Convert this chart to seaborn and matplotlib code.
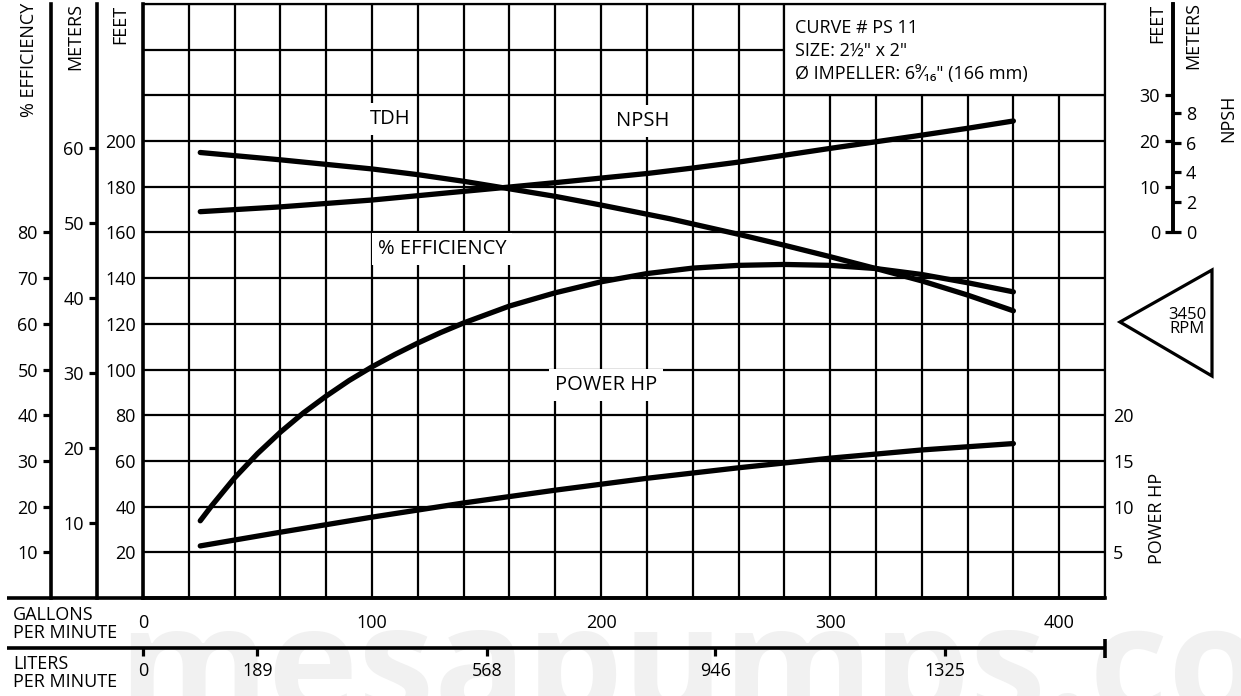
import numpy as np
import pandas as pd
import matplotlib
matplotlib.use("Agg")
import matplotlib.pyplot as plt
import seaborn as sns
from matplotlib.patches import Rectangle, Polygon

# ---------------- data ----------------
gpm_tdh = [25, 60, 100, 120, 140, 157, 180, 200, 230, 260, 280, 300, 320, 340, 360, 380]
tdh_ft = [195, 191.8, 187.8, 185.3, 182.4, 179.6, 175.8, 172.0, 166.0, 159.2, 154.4, 149.4, 144.2, 138.8, 132.6, 125.7]

gpm_npsh = [25, 60, 100, 140, 157, 180, 200, 220, 240, 260, 280, 300, 320, 340, 360, 380]
npsh_ft = [4.55, 5.6, 7.1, 9.0, 9.8, 10.9, 11.9, 12.9, 14.1, 15.4, 16.9, 18.4, 19.85, 21.3, 22.8, 24.4]

gpm_eff = [25, 30, 40, 50, 60, 70, 80, 90, 100, 110, 120, 130, 140, 160, 180, 200, 220, 240, 260,
           280, 300, 320, 340, 360, 380]
eff_pct = [16.9, 20.2, 26.3, 31.6, 36.3, 40.5, 44.2, 47.6, 50.6, 53.3, 55.8, 58.1, 60.2, 63.9, 66.8,
           69.2, 71.0, 72.2, 72.8, 73.0, 72.8, 72.1, 70.8, 69.0, 67.0]

gpm_hp = [25, 60, 100, 140, 180, 220, 260, 300, 340, 380]
power_hp = [5.7, 7.2, 8.85, 10.4, 11.8, 13.1, 14.25, 15.3, 16.2, 16.9]

gpm_ticks = [0, 100, 200, 300, 400]
lpm_ticks = [0, 189, 568, 946, 1325]
feet_ticks = [20, 40, 60, 80, 100, 120, 140, 160, 180, 200]
meter_ticks = [10, 20, 30, 40, 50, 60]
eff_ticks = [10, 20, 30, 40, 50, 60, 70, 80]
npsh_ft_ticks = [0, 10, 20, 30]
npsh_m_ticks = [0, 2, 4, 6, 8]
hp_ticks = [5, 10, 15, 20]

info_lines = ['CURVE # PS 11', 'SIZE: 2½" x 2"', 'Ø IMPELLER: 6⁹⁄₁₆" (166 mm)']

# ---------------- style ----------------
sns.set_theme(style="white")
plt.rcParams['font.family'] = ['Open Sans', 'DejaVu Sans']
plt.rcParams['axes.unicode_minus'] = False
FS = 13
K = 'black'

W, H = 1241, 696
fig = plt.figure(figsize=(W / 100, H / 100), dpi=100)
PX = 0.72  # points per pixel


def fx(px):
    return px / W


def fy(py):
    return 1 - py / H


L, R, T, B = 143, 1105, 4, 598
XMAX, YMAX = 420, 260
FT_PER_M = 1 / 0.3048
GAL_L = 3.785411784

ax = fig.add_axes([fx(L), fy(B), (R - L) / W, (B - T) / H])
ax.set_facecolor('none')


def ax_x(px):
    return (px - L) / (R - L)


def ax_y(py):
    return (B - py) / (B - T)


# watermark
fig.text(fx(118), fy(716), 'mesapumps.com', fontsize=110, weight='bold',
         color='#f1f1f1', ha='left', va='baseline', zorder=-5)

# ---------------- main axis: feet vs GPM ----------------
sns.lineplot(x=gpm_tdh, y=tdh_ft, ax=ax, color=K, lw=3.8, solid_capstyle='round', zorder=4)
ax.set_xlim(0, XMAX)
ax.set_ylim(0, YMAX)
xt = np.arange(0, XMAX + 1, 20)
yt = np.arange(0, YMAX + 1, 20)
ax.set_xticks(xt)
ax.set_xticklabels([str(v) if v in gpm_ticks else '' for v in xt])
ax.set_yticks(yt)
ax.set_yticklabels([str(v) if v in feet_ticks else '' for v in yt])
ax.tick_params(axis='x', length=0, pad=16 * PX, labelsize=FS, colors=K)
ax.tick_params(axis='y', length=0, pad=7 * PX, labelsize=FS, colors=K)
ax.set_axisbelow(True)
ax.grid(True, color=K, lw=1.6)
ax.set_xlabel('')
ax.set_ylabel('')
for side, lw in [('left', 2.6), ('bottom', 2.6), ('top', 1.6), ('right', 1.6)]:
    ax.spines[side].set_visible(True)
    ax.spines[side].set_color(K)
    ax.spines[side].set_linewidth(lw)

# info box (covers the grid in the top-right corner)
ax.add_patch(Rectangle((280, 220), 140, 40, facecolor='white', edgecolor=K, lw=1.6, zorder=1))
for i, line in enumerate(info_lines):
    ax.text(ax_x(795), ax_y(28 + 23 * i), line, transform=ax.transAxes,
            ha='left', va='center', fontsize=FS, color=K, zorder=5)

# curve labels on white boxes
lab_box = dict(facecolor='white', edgecolor='none', pad=4)
for txt, px, py in [('TDH', 390, 119), ('NPSH', 643, 121), ('% EFFICIENCY', 442, 249), ('POWER HP', 606, 385)]:
    ax.text(ax_x(px), ax_y(py), txt, transform=ax.transAxes, ha='center', va='center',
            fontsize=14.5, color=K, bbox=lab_box, zorder=3)

# bottom GPM line extended to the left
ax.plot([ax_x(7), 1], [0, 0], transform=ax.transAxes, color=K, lw=2.6,
        clip_on=False, solid_capstyle='butt')


def side_axis(ylim, pos_px, ticks, side='left', length=8, bounds=None, spine=True):
    a = ax.twinx()
    a.set_ylim(*ylim)
    for s in a.spines.values():
        s.set_visible(False)
    sp = a.spines[side]
    sp.set_position(('axes', ax_x(pos_px)))
    sp.set_visible(spine)
    sp.set_color(K)
    sp.set_linewidth(2.6)
    if bounds is not None:
        sp.set_bounds(*bounds)
    if side == 'left':
        a.yaxis.set_ticks_position('left')
    else:
        a.yaxis.set_ticks_position('right')
    a.set_yticks(ticks)
    a.set_yticklabels([str(t) for t in ticks])
    a.tick_params(axis='y', direction='out', length=length * PX, width=2.3,
                  pad=5 * PX, labelsize=FS, colors=K)
    a.grid(False)
    return a


# efficiency and meters scales on the left
ax_e = side_axis((0, YMAX / 2), 51, eff_ticks)
ax_m = side_axis((0, YMAX / FT_PER_M), 97, meter_ticks)
sns.lineplot(x=gpm_eff, y=eff_pct, ax=ax_e, color=K, lw=3.8, solid_capstyle='round')

# NPSH scale (feet left of the bar, meters right of it)
ax_n = side_axis((-80, 50), 1173, npsh_ft_ticks, bounds=(0, 50))
ax_nm = side_axis((-80 / FT_PER_M, 50 / FT_PER_M), 1173, npsh_m_ticks, side='right',
                  bounds=(0, 50 / FT_PER_M))
sns.lineplot(x=gpm_npsh, y=npsh_ft, ax=ax_n, color=K, lw=3.8, solid_capstyle='round')

# power scale
ax_p = side_axis((0, YMAX / 4), 1105, hp_ticks, side='right', length=0, spine=False)
ax_p.tick_params(axis='y', pad=8 * PX)
sns.lineplot(x=gpm_hp, y=power_hp, ax=ax_p, color=K, lw=3.8, solid_capstyle='round')

for a in (ax_e, ax_m, ax_n, ax_nm, ax_p):
    a.set_ylabel('')
    a.set_xlabel('')
ax.set_xlim(0, XMAX)
ax_e.set_ylim(0, YMAX / 2)
ax_n.set_ylim(-80, 50)
ax_p.set_ylim(0, YMAX / 4)

# liters per minute scale
ax_l = ax.twiny()
ax_l.set_xlim(0, XMAX * GAL_L)
for s in ax_l.spines.values():
    s.set_visible(False)
ax_l.xaxis.set_ticks_position('bottom')
ax_l.spines['bottom'].set_position(('axes', ax_y(648)))
ax_l.set_xticks(lpm_ticks)
ax_l.set_xticklabels([str(t) for t in lpm_ticks])
ax_l.tick_params(axis='x', direction='out', length=8 * PX, width=2.3, pad=6 * PX,
                 labelsize=FS, colors=K)
ax_l.grid(False)
ax.plot([ax_x(7), 1], [ax_y(648)] * 2, transform=ax.transAxes, color=K, lw=2.6,
        clip_on=False, solid_capstyle='butt')
ax.plot([1, 1], [ax_y(639), ax_y(658)], transform=ax.transAxes, color=K, lw=2.6,
        clip_on=False, solid_capstyle='butt')

# axis titles
for txt, px, py in [('% EFFICIENCY', 29, 3), ('METERS', 75, 3), ('FEET', 120, 5),
                    ('FEET', 1157, 4), ('METERS', 1193, 2)]:
    fig.text(fx(px), fy(py), txt, rotation=90, ha='center', va='top', fontsize=FS, color=K)
fig.text(fx(1228), fy(118), 'NPSH', rotation=90, ha='center', va='center', fontsize=FS, color=K)
fig.text(fx(1157), fy(518), 'POWER HP', rotation=90, ha='center', va='center', fontsize=FS, color=K)
fig.text(fx(13), fy(624), 'GALLONS\nPER MINUTE', ha='left', va='center', fontsize=FS,
         color=K, linespacing=1.05)
fig.text(fx(13), fy(673), 'LITERS\nPER MINUTE', ha='left', va='center', fontsize=FS,
         color=K, linespacing=1.05)

# speed triangle
fig.add_artist(Polygon([[fx(1120), fy(322)], [fx(1212), fy(270)], [fx(1212), fy(376)]],
                       closed=True, fill=False, edgecolor=K, lw=2.3, transform=fig.transFigure))
fig.text(fx(1187), fy(322), '3450\nRPM', ha='center', va='center', fontsize=12,
         color=K, linespacing=0.9)

fig.savefig('out.png', dpi=100)
